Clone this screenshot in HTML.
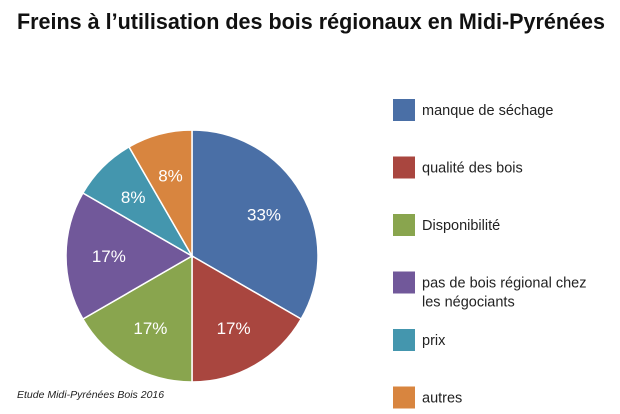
<!DOCTYPE html>
<html><head><meta charset="utf-8"><style>
html,body{margin:0;padding:0;background:#fff;}
svg{display:block;font-family:"Liberation Sans",sans-serif;}
</style></head><body>
<svg id="chart" width="620" height="414" viewBox="0 0 620 414">
<text x="17" y="29" font-size="22" font-weight="bold" textLength="588" lengthAdjust="spacingAndGlyphs" fill="#111">Freins à l’utilisation des bois régionaux en Midi-Pyrénées</text>
<g id="slices"></g>
<g id="legend"></g>
<text x="17" y="398" font-size="10.5" font-style="italic" fill="#222">Etude Midi-Pyrénées Bois 2016</text>
</svg>
<script>
const categories=["manque de séchage","qualité des bois","Disponibilité","pas de bois régional chez|les négociants","prix","autres"];
const values=[4,2,2,2,1,1];
const labels=["33%","17%","17%","17%","8%","8%"];
const colors=["#4a6fa6","#a9463f","#89a54e","#71589a","#4496ae","#d8853f"];
const NS="http://www.w3.org/2000/svg";
const cx=192,cy=256,r=126;
const total=values.reduce((a,b)=>a+b,0);
const sg=document.getElementById('slices'),lg=document.getElementById('legend');
let a0=0;
function pt(a,rr){return [cx+rr*Math.sin(a),cy-rr*Math.cos(a)];}
values.forEach((v,i)=>{
  const a1=a0+v/total*2*Math.PI;
  const p0=pt(a0,r),p1=pt(a1,r);
  const p=document.createElementNS(NS,'path');
  p.setAttribute('d',`M${cx},${cy}L${p0[0]},${p0[1]}A${r},${r} 0 ${a1-a0>Math.PI?1:0} 1 ${p1[0]},${p1[1]}Z`);
  p.setAttribute('fill',colors[i]);p.setAttribute('stroke','#fff');p.setAttribute('stroke-width','1.5');
  
  
  sg.appendChild(p);
  const m=(a0+a1)/2,lp=pt(m,r*0.66);
  const t=document.createElementNS(NS,'text');
  t.setAttribute('x',lp[0]);t.setAttribute('y',lp[1]+6);t.setAttribute('text-anchor','middle');
  t.setAttribute('font-size','17');t.setAttribute('fill','#fff');t.textContent=labels[i];
  
  
  sg.appendChild(t);
  a0=a1;
  const y=110+i*57.5;
  const g=document.createElementNS(NS,'g');
  
  
  const s=document.createElementNS(NS,'rect');
  s.setAttribute('x',393);s.setAttribute('y',y-11);s.setAttribute('width',22);s.setAttribute('height',22);s.setAttribute('fill',colors[i]);
  
  
  g.appendChild(s);
  const lines=categories[i].split('|');
  lines.forEach((ln,k)=>{
    const tt=document.createElementNS(NS,'text');
    tt.setAttribute('x',422);tt.setAttribute('y',y+5+k*19);tt.setAttribute('font-size','14.5');tt.setAttribute('fill','#222');
    tt.textContent=ln;
    
    
    g.appendChild(tt);
  });
  lg.appendChild(g);
});
</script>
</body></html>
